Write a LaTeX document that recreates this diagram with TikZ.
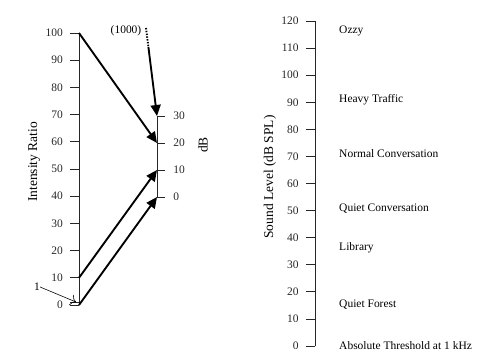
\documentclass[tikz,border=0pt]{standalone}
\usepackage{fontspec}
\setmainfont{Liberation Serif}
\usetikzlibrary{arrows.meta, positioning}

\begin{document}
\begin{tikzpicture}[
    x=0.03cm, y=-0.03cm,
    every node/.style={font=\fontsize{9.8}{11}\selectfont, inner sep=0pt},
    axis/.style={line width=0.8pt, black!85},
    tick/.style={line width=0.7pt, black!85},
    title/.style={rotate=90, font=\fontsize{11.5}{13}\selectfont},
    source/.style={anchor=west},
    arrow/.style={line width=1.6pt, -{Triangle[length=3.3mm, width=3mm]}},
    pointer/.style={line width=0.5pt, -{To[length=1.6mm]}}
]
\useasboundingbox (0,0) rectangle (500,362);

% intensity ratio scale
\foreach \v in {0,10,...,100} {
  \coordinate (i\v) at (79, {305-2.72*\v});
  \draw [tick] (i\v) -- ++(-9,0) node (li\v) [anchor=east, xshift=-2mm] {\v};
}
\coordinate (i1) at (79, 302.3);
\draw [tick] (i1) -- ++(-9,0);
\draw [axis] (i0) -- (i100);
\node (ratiotitle) [title] at (34,162) {Intensity Ratio};

\node (lone) at (37,287) {1};
\coordinate (onetip) at (76,302);
\draw [pointer] (lone.east) -- (onetip);

% dB scale
\foreach \d in {0,10,20,30} {
  \coordinate (d\d) at (157, {197-2.7*\d});
  \draw [tick] (d\d) -- ++(8,0) node (ld\d) [anchor=west, xshift=2.4mm] {\d};
}
\draw [axis] (d0) -- (d30);
\node (dbtitle) [title] at (203,145) {dB};

% mapping arrows
\draw [arrow] (i100) -- (d20);
\draw [arrow] (i10) -- (d10);
\draw [arrow] (i0) -- (d0);

\node (thousand) at (126,31) {(1000)};
\coordinate (kstart) at (146,28);
\coordinate (kbreak) at (148.4,47);
\draw [line width=1.6pt, dash pattern=on 1.2pt off 1.2pt] (kstart) -- (kbreak);
\draw [arrow] (kbreak) -- (d30);

% sound level scale
\foreach \s in {0,10,...,120} {
  \coordinate (s\s) at (315, {346-2.708*\s});
  \draw [tick] (s\s) -- ++(-9,0) node (ls\s) [anchor=east, xshift=-2.1mm] {\s};
}
\draw [axis] (s0) -- (s120);
\node (spltitle) [title] at (270,177) {Sound Level (dB SPL)};

\node (ozzy) [source] at (339,31) {Ozzy};
\node (traffic) [source] at (339,100) {Heavy Traffic};
\node (normal) [source] at (339,154) {Normal Conversation};
\node (quiet) [source] at (339,209) {Quiet Conversation};
\node (library) [source] at (339,248) {Library};
\node (forest) [source] at (339,305) {Quiet Forest};
\node (threshold) [source] at (339,346) {Absolute Threshold at 1 kHz};

\end{tikzpicture}
\end{document}
